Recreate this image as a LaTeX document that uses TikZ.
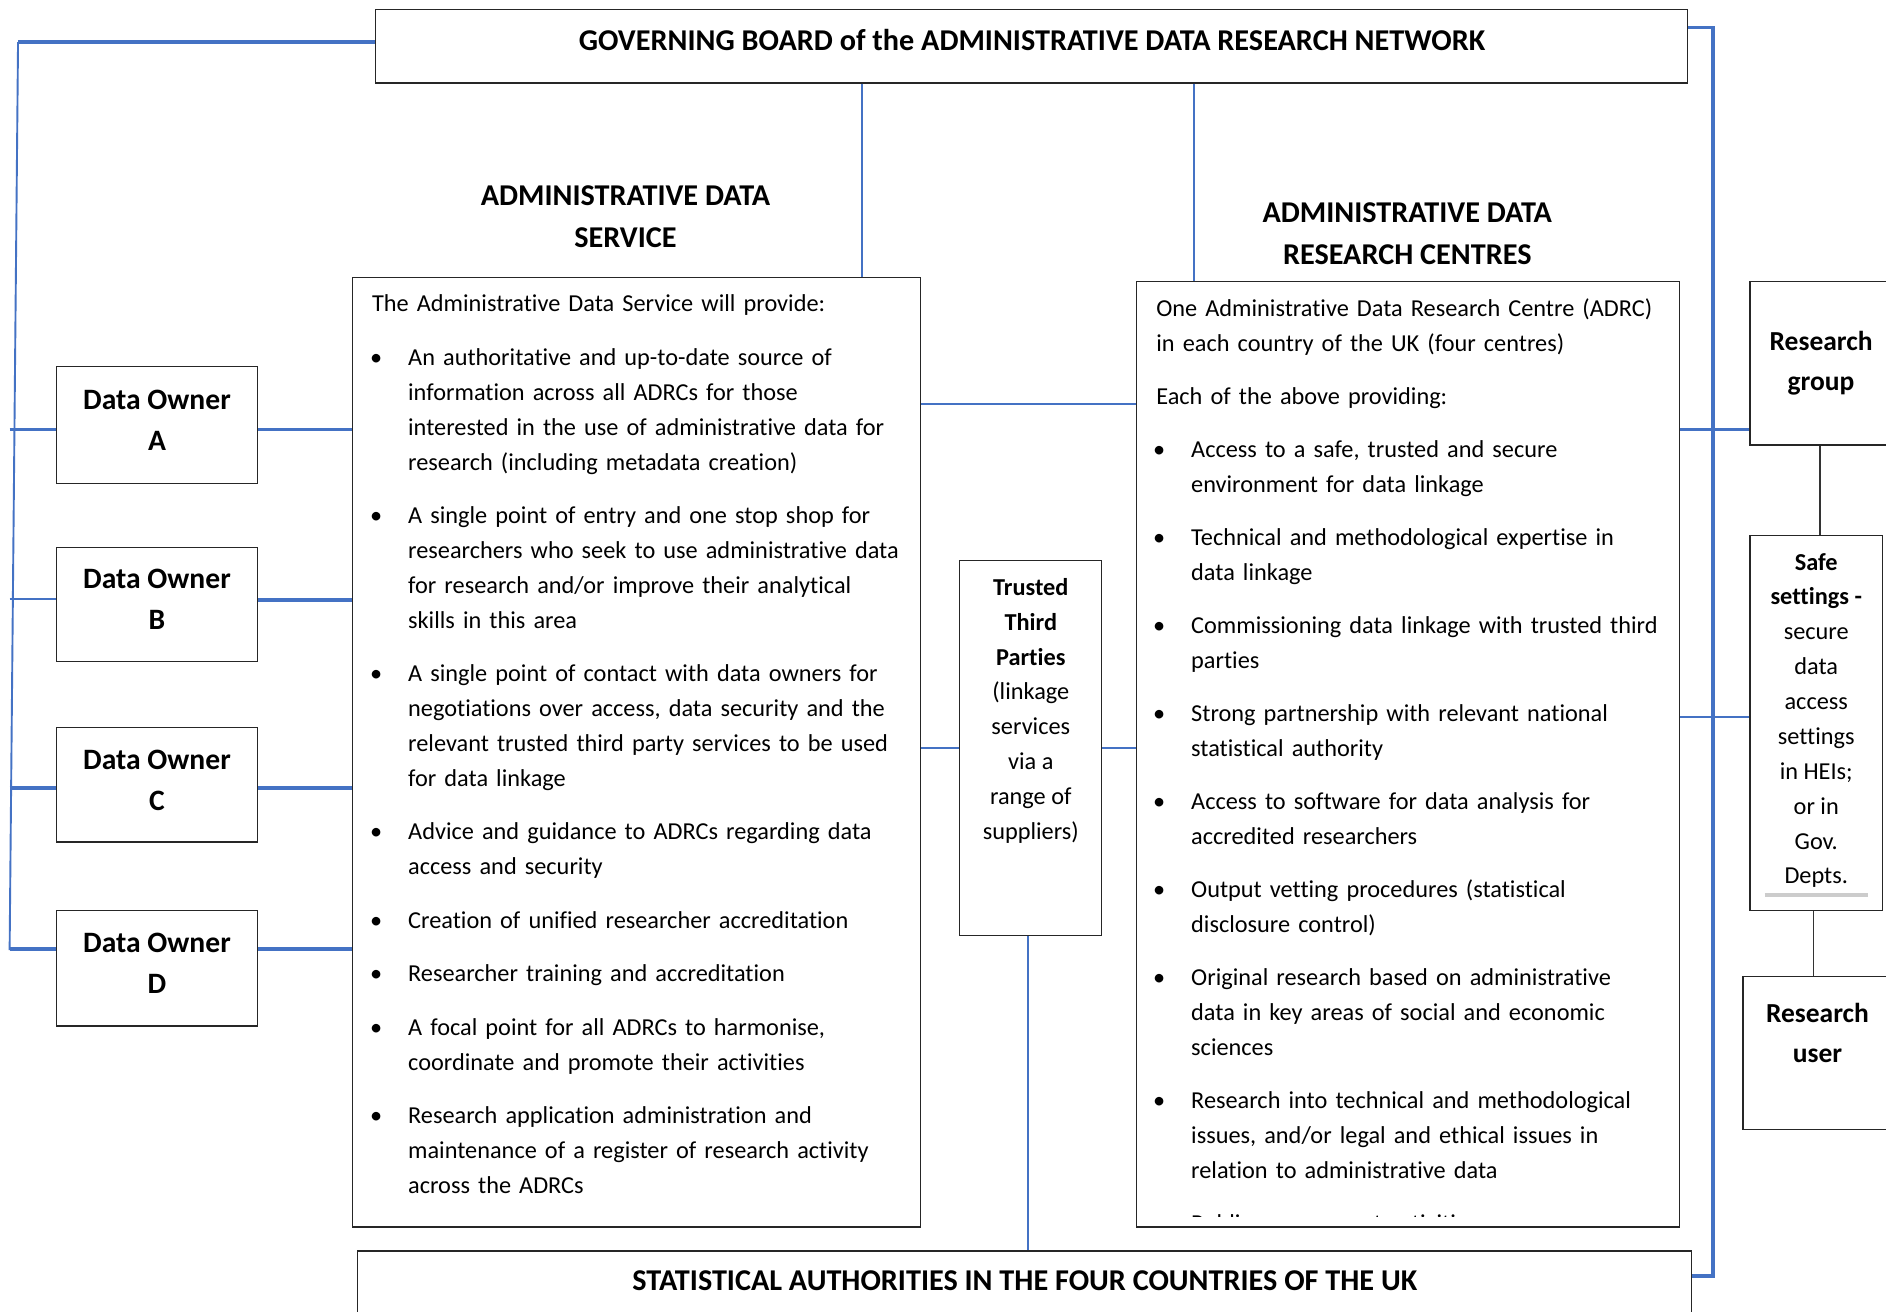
\documentclass[tikz,border=0pt]{standalone}
\usepackage{fontspec}
\setmainfont{Carlito}[Ligatures=NoCommon]
\usepackage{enumitem}
\usetikzlibrary{fit,calc}
\definecolor{wireblue}{RGB}{68,114,196}
\newcommand{\bodyfont}{\fontsize{11.5}{16.5}\selectfont}
\setlist[itemize]{label=\textbullet,labelsep=4.3mm,topsep=3.1mm,itemsep=3.1mm,parsep=0pt,partopsep=0pt}

\begin{document}
\begin{tikzpicture}[x=0.2mm,y=-0.2mm,
 box/.style={draw=black!85,line width=0.6pt,inner sep=0pt},
 wire/.style={draw=wireblue,line width=0.9pt},
 wirethick/.style={draw=wireblue,line width=1.7pt},
 link/.style={draw=black!80,line width=0.6pt},
 title/.style={font=\fontsize{14.3}{20}\selectfont\bfseries,align=center,inner sep=0pt},
 boxtxt/.style={font=\fontsize{14}{19.3}\selectfont\bfseries,align=center,inner sep=0pt},
 sidetxt/.style={font=\fontsize{13}{18.8}\selectfont\bfseries,align=center,inner sep=0pt},
 smalltxt/.style={font=\bodyfont,align=center,inner sep=0pt},
 body/.style={font=\bodyfont,text width=90mm,align=left,anchor=north west,inner sep=0pt}]
\useasboundingbox (0,0) rectangle (1568,1090);

\node[box,fit={(312,8) (1403,69)}] (board) {};
\node[title] (boardtxt) at (858,33) {GOVERNING BOARD of the ADMINISTRATIVE DATA RESEARCH NETWORK};

\node[title] (adshead) at (520,180) {ADMINISTRATIVE DATA\\SERVICE};
\node[title] (adrchead) at (1170,194) {ADMINISTRATIVE DATA\\RESEARCH CENTRES};

\node[box,fit={(293,231) (765,1020)}] (ads) {};
\node[box,fit={(945,234) (1396,1020)}] (adrc) {};
\node[box,fit={(798,466) (916,778)}] (ttp) {};
\node[box,fit={(297,1040) (1406,1130)}] (stat) {};
\node[box,fit={(1455,234) (1590,370)}] (rgroup) {};
\node[box,fit={(1455,445) (1565,757)}] (safe) {};
\node[box,fit={(1449,812) (1590,939)}] (ruser) {};

\foreach \o/\t/\b in {A/305/402,B/455/550,C/605/700,D/757/853}{
  \node[box,fit={(47,\t) (214,\b)}] (do\o) {};
  \node[boxtxt] (do\o txt) at ($(do\o)+(0,-4)$) {Data Owner\\\o};
}

\node[body] (adstxt) at (309,245) {The Administrative Data Service will provide:
\begin{itemize}[leftmargin=6mm]
\item An authoritative and up-to-date source of\\information across all ADRCs for those\\interested in the use of administrative data for\\research (including metadata creation)
\item A single point of entry and one stop shop for\\researchers who seek to use administrative data\\for research and/or improve their analytical\\skills in this area
\item A single point of contact with data owners for\\negotiations over access, data security and the\\relevant trusted third party services to be used\\for data linkage
\item Advice and guidance to ADRCs regarding data\\access and security
\item Creation of unified researcher accreditation
\item Researcher training and accreditation
\item A focal point for all ADRCs to harmonise,\\coordinate and promote their activities
\item Research application administration and\\maintenance of a register of research activity\\across the ADRCs
\end{itemize}};

\begin{scope}
\clip (945,234) rectangle (1396,1011);
\node[body,text width=88mm] (adrctxt) at (961,248) {One Administrative Data Research Centre (ADRC)\\in each country of the UK (four centres)\par\vspace{3.0mm}
Each of the above providing:
\begin{itemize}[leftmargin=5.8mm,topsep=3.0mm,itemsep=3.05mm]
\item Access to a safe, trusted and secure\\environment for data linkage
\item Technical and methodological expertise in\\data linkage
\item Commissioning data linkage with trusted third\\parties
\item Strong partnership with relevant national\\statistical authority
\item Access to software for data analysis for\\accredited researchers
\item Output vetting procedures (statistical\\disclosure control)
\item Original research based on administrative\\data in key areas of social and economic\\sciences
\item Research into technical and methodological\\issues, and/or legal and ethical issues in\\relation to administrative data
\item Public engagement activities
\end{itemize}};
\end{scope}

\node[smalltxt] (ttptxt) at (857,591) {\textbf{Trusted}\\\textbf{Third}\\\textbf{Parties}\\(linkage\\services\\via a\\range of\\suppliers)};
\node[title] (stattxt) at (852,1065) {STATISTICAL AUTHORITIES IN THE FOUR COUNTRIES OF THE UK};

\node[sidetxt] (rgrouptxt) at (1514,302) {Research\\group};
\node[smalltxt] (safetxt) at (1510,599) {\textbf{Safe}\\\textbf{settings -}\\secure\\data\\access\\settings\\in HEIs;\\or in\\Gov.\\Depts.};
\draw[black!20,line width=2.2pt] (1467,744) -- (1553,744);
\node[sidetxt] (rusertxt) at (1511,859) {Research\\user};

\draw[wirethick] (board.west |- 0,35) -- (15,35);
\draw[wire] (15,35) -- (8,790);
\foreach \o/\y/\z/\w in {A/357/357/1.7pt,B/498/499/1pt,C/655/655/1.7pt,D/789/789/1.7pt}{
  \draw[wirethick,line width=\w] (8,\y) -- (do\o.west |- 0,\y);
  \draw[wirethick] (do\o.east |- 0,\z) -- (ads.west |- 0,\z);
}
\draw[wire] (board.south -| 717,0) -- (ads.north -| 717,0);
\draw[wire] (board.south -| 993,0) -- (adrc.north -| 993,0);
\draw[wire] (ads.east |- 0,336) -- (adrc.west |- 0,336);
\draw[wire] (ads.east |- ttp.west) -- (ttp.west);
\draw[wire] (ttp.east) -- (adrc.west |- ttp.east);
\draw[wire] (ttp.south -| 855,0) -- (stat.north -| 855,0);
\draw[wirethick] (board.east |- 0,23) -- (1424,23) -- (1424,1061) -- (stat.east |- 0,1061);
\draw[wirethick] (adrc.east |- 0,357) -- (rgroup.west |- 0,357);
\draw[wire] (adrc.east |- 0,596) -- (safe.west |- 0,596);
\draw[link] (rgroup.south -| 1513,0) -- (safe.north -| 1513,0);
\draw[link] (safe.south -| 1508,0) -- (ruser.north -| 1508,0);
\end{tikzpicture}
\end{document}
